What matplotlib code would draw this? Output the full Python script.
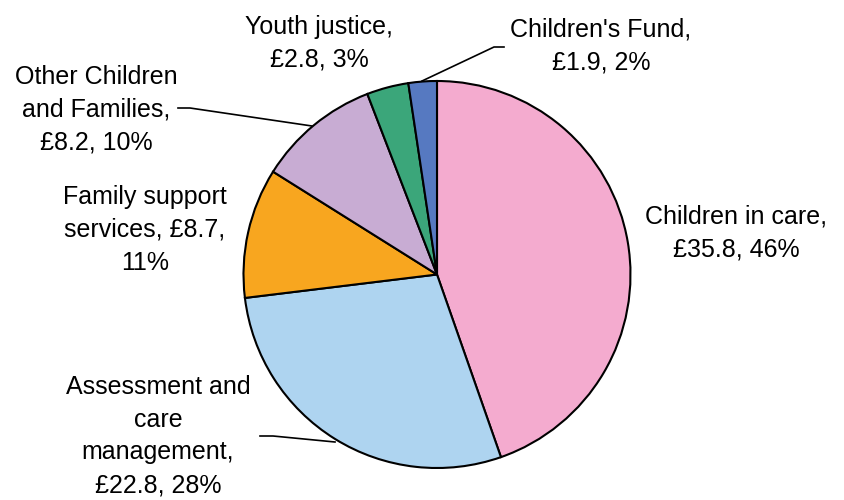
import matplotlib.pyplot as plt

# spending by area, £m
categories = ["Children in care", "Assessment and\ncare\nmanagement", "Family support\nservices",
              "Other Children\nand Families", "Youth justice", "Children's Fund"]
values = [35.8, 22.8, 8.7, 8.2, 2.8, 1.9]
shares = [46, 28, 11, 10, 3, 2]
colors = ["#F4ABCF", "#AED4F0", "#F8A61F", "#C8ACD3", "#3BA67A", "#5679C1"]

W, H = 844, 500
fig = plt.figure(figsize=(W / 100, H / 100), dpi=100)
ax = fig.add_axes([0, 0, 1, 1])

ax.pie(values, colors=colors, startangle=90, counterclock=False,
       center=(437, H - 274.5), radius=193.5, frame=True,
       wedgeprops=dict(edgecolor="black", linewidth=1.5))
ax.set_xlim(0, W)
ax.set_ylim(0, H)
ax.set_aspect("equal")
ax.axis("off")

# label text: name, value, share
labels = [
    f"{categories[0]},\n£{values[0]}, {shares[0]}%",
    f"{categories[1]},\n£{values[1]}, {shares[1]}%",
    f"{categories[2]}, £{values[2]},\n{shares[2]}%",
    f"{categories[3]},\n£{values[3]}, {shares[3]}%",
    f"{categories[4]},\n£{values[4]}, {shares[4]}%",
    f"{categories[5]},\n£{values[5]}, {shares[5]}%",
]
label_xy = [(736, 233), (158, 436), (145, 230), (96, 110), (319, 43), (601, 46)]

for txt, (x, y) in zip(labels, label_xy):
    ax.text(x, H - y, txt, ha="center", va="center", fontsize=18,
            family="Liberation Sans", linespacing=1.47)

# leader lines
leaders = [
    [(260, 436), (273, 436), (335, 442)],
    [(178, 108), (190, 108), (312, 126)],
    [(504, 47), (494, 47), (422, 81)],
]
for pts in leaders:
    xs = [p[0] for p in pts]
    ys = [H - p[1] for p in pts]
    ax.plot(xs, ys, color="black", lw=1.2)

fig.savefig("out.png", dpi=100)
